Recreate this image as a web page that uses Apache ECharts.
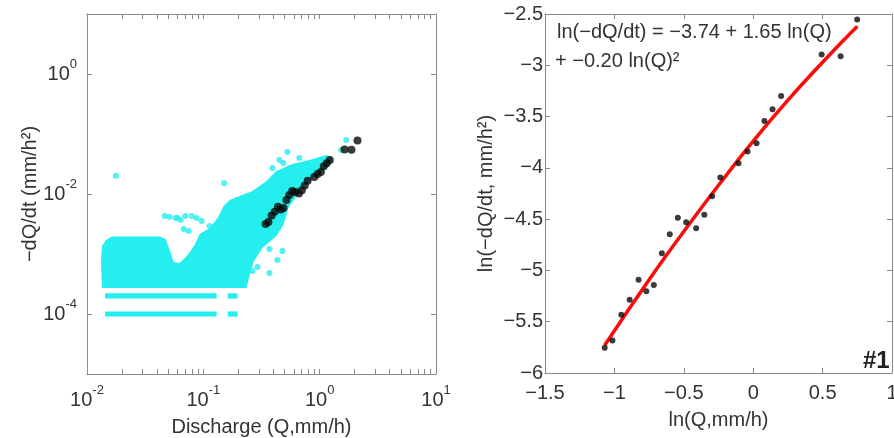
<!DOCTYPE html>
<html>
<head>
<meta charset="utf-8">
<script src="https://cdn.jsdelivr.net/npm/echarts@6/dist/echarts.min.js"></script>
<style>html,body{margin:0;padding:0;background:#fff}#c{width:894px;height:438px}</style>
</head>
<body>
<div id="c"></div>
<script>
// ---------- data ----------
// right panel: binned recession points (natural logs)
var lnQ = [-1.070,-1.014,-0.950,-0.890,-0.826,-0.770,-0.716,-0.658,-0.601,-0.543,-0.483,-0.411,-0.352,-0.296,-0.237,-0.106,-0.041,0.024,0.081,0.139,0.201,0.493,0.630,0.749];
var lnD = [-5.754,-5.683,-5.433,-5.287,-5.090,-5.202,-5.141,-4.833,-4.648,-4.486,-4.531,-4.590,-4.457,-4.278,-4.093,-3.954,-3.840,-3.760,-3.543,-3.429,-3.300,-2.894,-2.911,-2.554];
// right panel: fitted curve
var fitX = [-1.07,-0.75,-0.5,-0.25,0,0.25,0.5,0.75];
var fitY = [-5.73,-5.09,-4.62,-4.17,-3.74,-3.34,-2.97,-2.62];
// left panel: outline of the dense cyan cloud (Q, -dQ/dt)
var cloudQ = [0.01344,0.01318,0.01344,0.01455,0.01637,0.0422,0.0475,0.0514,0.0556,0.0626,0.0734,0.0842,0.0930,0.1132,0.1326,0.1493,0.168,0.2047,0.2646,0.3486,0.4246,0.5824,0.8144,1.139,1.282,1.257,1.139,0.8642,0.6686,0.5383,0.4875,0.4246,0.3222,0.2698,0.2492,0.2350];
var cloudD = [2.71e-4,7.36e-4,1.36e-3,1.71e-3,1.96e-3,1.96e-3,1.78e-3,1.17e-3,7.36e-4,7.08e-4,9.62e-4,1.41e-3,2.15e-3,2.71e-3,3.98e-3,6.31e-3,7.94e-3,9.26e-3,0.0112,0.0165,0.0242,0.0316,0.0369,0.0447,0.0414,0.0316,0.0261,0.0185,0.0108,5.84e-3,3.04e-3,2.0e-3,1.26e-3,7.36e-4,4.30e-4,2.71e-4];
// left panel: quantised rows of -dQ/dt (start Q, end Q, level)
var bandStart = [0.0143,0.0143,0.162,0.162];
var bandEnd   = [0.130,0.130,0.197,0.197];
var bandLevel = [1e-4,2e-4,1e-4,2e-4];
// left panel: scattered cyan points outside the cloud
var outQ = [0.0177,0.1507,0.0466,0.0514,0.0579,0.0639,0.0794,0.0876,0.0967,0.0678,0.0748,0.1132,0.528,0.4506,0.3925,0.560,0.4875,0.6686,1.531,1.69,0.370,0.478,0.433,0.292,0.370,0.2646,0.0600,0.0700];
var outD = [0.0202,0.0151,4.30e-3,4.14e-3,3.98e-3,3.69e-3,4.30e-3,3.98e-3,3.55e-3,2.61e-3,2.42e-3,2.93e-3,0.0501,0.0369,0.0271,0.0271,0.0329,0.0398,0.0541,0.0794,1.21e-3,1.12e-3,7.94e-4,6.07e-4,4.82e-4,5.21e-4,4.00e-3,4.30e-3];
// tick values
var xLogLabels = [0.01,0.1,1,10];
var xLogTicks = [0.01,0.02,0.03,0.04,0.05,0.06,0.07,0.08,0.09,0.1,0.2,0.3,0.4,0.5,0.6,0.7,0.8,0.9,1,2,3,4,5,6,7,8,9,10];
var yLogLabels = [1e-4,1e-2,1];

// ---------- styling ----------
var FONT = '"Liberation Sans", Arial, sans-serif';
var TXT = '#333';
var AX = '#8a8a8a';
var CYAN = '#24eeee';

function logFmt(v){
  var e = Math.round(Math.log10(v));
  return '{b|10}{s|' + (e < 0 ? '-' : '') + Math.abs(e) + '}';
}
var richLog = {
  b:{fontSize:20,fontFamily:FONT,color:TXT,lineHeight:20},
  s:{fontSize:13,fontFamily:FONT,color:TXT,lineHeight:13,padding:[0,0,20,0]}
};
function linFmt(v){
  var s = String(Math.round(v*10)/10);
  return s.replace('-', '\u2212');
}
function baseAxis(extra){
  var a = {
    axisLine:{show:true,onZero:false,lineStyle:{color:AX,width:1}},
    axisTick:{show:true,inside:true,length:5,lineStyle:{color:AX}},
    splitLine:{show:false},
    nameMoveOverlap:false
  };
  for (var k in extra) a[k] = extra[k];
  return a;
}

var chart = echarts.init(document.getElementById('c'), null, {renderer:'canvas'});

var option = {
  animation:false,
  backgroundColor:'#fff',
  grid:[
    {left:87,top:14,width:349,height:360,containLabel:false,outerBoundsMode:'none'},
    {left:545,top:14,width:347,height:359,containLabel:false,outerBoundsMode:'none'}
  ],
  xAxis:[
    baseAxis({type:'log',logBase:10,gridIndex:0,position:'bottom',min:0.01,max:10,
      axisTick:{show:true,inside:true,length:5,lineStyle:{color:AX},customValues:xLogTicks},
      axisLabel:{customValues:xLogLabels,formatter:logFmt,rich:richLog,margin:16},
      name:'Discharge (Q,mm/h)',nameLocation:'middle',nameGap:43,
      nameTextStyle:{fontSize:20,fontFamily:FONT,color:TXT}}),
    baseAxis({type:'log',logBase:10,gridIndex:0,position:'top',min:0.01,max:10,
      axisTick:{show:true,inside:true,length:5,lineStyle:{color:AX},customValues:xLogTicks},
      axisLabel:{show:false}}),
    baseAxis({type:'value',gridIndex:1,position:'bottom',min:-1.5,max:1,interval:0.5,
      axisLabel:{formatter:linFmt,fontSize:20,fontFamily:FONT,color:TXT,margin:10,showMinLabel:true,showMaxLabel:true,hideOverlap:false},
      name:'ln(Q,mm/h)',nameLocation:'middle',nameGap:37,
      nameTextStyle:{fontSize:20,fontFamily:FONT,color:TXT}}),
    baseAxis({type:'value',gridIndex:1,position:'top',min:-1.5,max:1,interval:0.5,
      axisLabel:{show:false}})
  ],
  yAxis:[
    baseAxis({type:'log',logBase:10,gridIndex:0,position:'left',min:1e-5,max:10,
      axisTick:{show:true,inside:true,length:5,lineStyle:{color:AX},customValues:yLogLabels},
      axisLabel:{customValues:yLogLabels,formatter:logFmt,rich:richLog,margin:10},
      name:'\u2212dQ/dt (mm/h\u00b2)',nameLocation:'middle',nameGap:47,
      nameTextStyle:{fontSize:20,fontFamily:FONT,color:TXT}}),
    baseAxis({type:'log',logBase:10,gridIndex:0,position:'right',min:1e-5,max:10,
      axisTick:{show:true,inside:true,length:5,lineStyle:{color:AX},customValues:yLogLabels},
      axisLabel:{show:false}}),
    baseAxis({type:'value',gridIndex:1,position:'left',min:-6,max:-2.5,interval:0.5,
      axisLabel:{formatter:linFmt,fontSize:20,fontFamily:FONT,color:TXT,margin:2,showMinLabel:true,showMaxLabel:true},
      name:'ln(\u2212dQ/dt, mm/h\u00b2)',nameLocation:'middle',nameGap:49,
      nameTextStyle:{fontSize:20,fontFamily:FONT,color:TXT}}),
    baseAxis({type:'value',gridIndex:1,position:'right',min:-6,max:-2.5,interval:0.5,
      axisLabel:{show:false}})
  ],
  series:[
    {
      type:'custom', xAxisIndex:0, yAxisIndex:0, silent:true, z:2,
      data:[[cloudQ[0], cloudD[0]]],
      renderItem:function(params, api){
        var pts = cloudQ.map(function(q,i){ return api.coord([q, cloudD[i]]); });
        return {type:'polygon', shape:{points:pts}, style:{fill:CYAN}};
      }
    },
    {
      type:'custom', xAxisIndex:0, yAxisIndex:0, silent:true, z:2,
      data:bandLevel.map(function(d,i){ return [bandStart[i], d, bandEnd[i]]; }),
      encode:{x:[0,2], y:1},
      renderItem:function(params, api){
        var p0 = api.coord([api.value(0), api.value(1)]);
        var p1 = api.coord([api.value(2), api.value(1)]);
        return {type:'rect', shape:{x:p0[0], y:p0[1]-2.6, width:p1[0]-p0[0], height:5.2}, style:{fill:CYAN}};
      }
    },
    {
      type:'scatter', xAxisIndex:0, yAxisIndex:0, silent:true, z:3,
      symbol:'circle', symbolSize:6, itemStyle:{color:CYAN},
      data:outQ.map(function(q,i){ return [q, outD[i]]; })
    },
    {
      type:'scatter', xAxisIndex:0, yAxisIndex:0, silent:true, z:4,
      symbol:'circle', symbolSize:8, itemStyle:{color:'#0a0a0a'},
      data:lnQ.map(function(x,i){ return [Math.exp(x), Math.exp(lnD[i])]; })
    },
    {
      type:'line', xAxisIndex:2, yAxisIndex:2, silent:true, z:3,
      showSymbol:false, symbol:'none', smooth:true,
      lineStyle:{color:'#ff0a0a', width:3.5},
      data:fitX.map(function(x,i){ return [x, fitY[i]]; })
    },
    {
      type:'scatter', xAxisIndex:2, yAxisIndex:2, silent:true, z:4,
      symbol:'circle', symbolSize:6, itemStyle:{color:'#0a0a0a'},
      data:lnQ.map(function(x,i){ return [x, lnD[i]]; })
    }
  ],
  graphic:[
    {type:'text', left:557, top:22, z:10,
      style:{text:'ln(\u2212dQ/dt) = \u22123.74 + 1.65 ln(Q)', font:'20px ' + FONT, fill:TXT}},
    {type:'text', left:555, top:51, z:10,
      style:{text:'+ \u22120.20 ln(Q)\u00b2', font:'20px ' + FONT, fill:TXT}},
    {type:'text', left:863, top:349, z:10,
      style:{text:'#1', font:'bold 24px ' + FONT, fill:'#222'}}
  ]
};
chart.setOption(option);
</script>
</body>
</html>
